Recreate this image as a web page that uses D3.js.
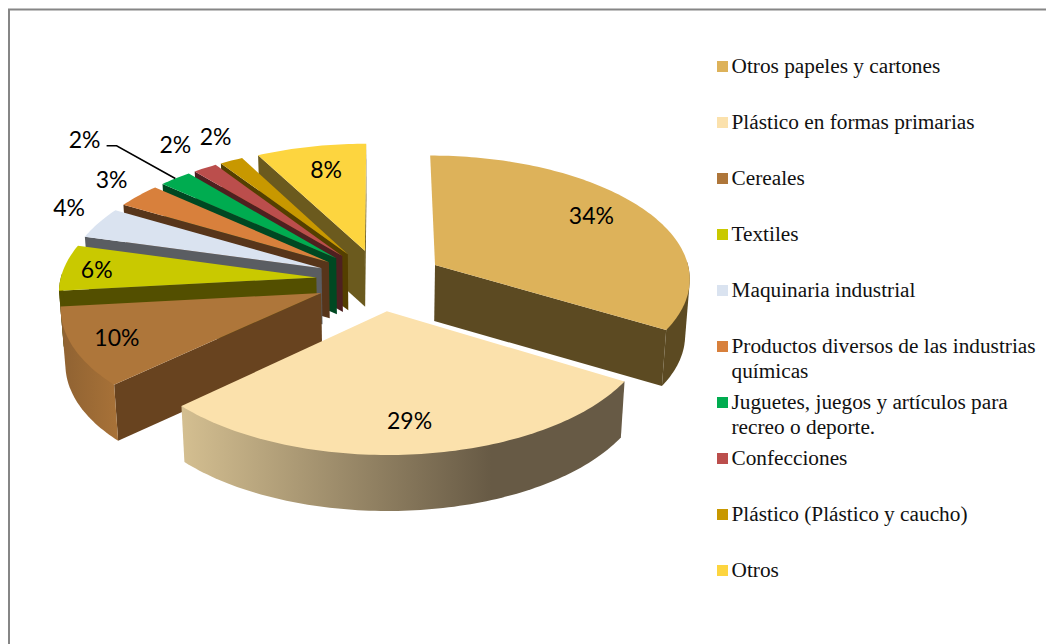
<!DOCTYPE html>
<html>
<head>
<meta charset="utf-8">
<script src="https://cdn.jsdelivr.net/npm/d3@7"></script>
<style>
  html, body { margin: 0; padding: 0; background: #fff; }
  svg { display: block; }
</style>
</head>
<body>
<figure id="chart" style="margin:0"></figure>
<script>
// data (labels show them rounded)
var categories = ["Otros papeles y cartones", "Plástico en formas primarias", "Cereales", "Textiles",
  "Maquinaria industrial", "Productos diversos de las industrias químicas",
  "Juguetes, juegos y artículos para recreo o deporte.", "Confecciones",
  "Plástico (Plástico y caucho)", "Otros"];
var values = [33.6, 29.45, 10.25, 6, 4.1, 3.2, 2.3, 1.7, 1.64, 7.76];

// legend text broken the way the original wraps it
var legendLines = [["Otros papeles y cartones"], ["Plástico en formas primarias"], ["Cereales"], ["Textiles"],
  ["Maquinaria industrial"], ["Productos diversos de las industrias", "químicas"],
  ["Juguetes, juegos y artículos para", "recreo o deporte."], ["Confecciones"],
  ["Plástico (Plástico y caucho)"], ["Otros"]];

// colours
var topColors = ["#ddb25a", "#fbe1ac", "#ae763a", "#c9c900", "#dae3f0", "#d8803c", "#00ac50", "#bb4e4c", "#c89800", "#fdd53f"];
var wallColors = ["#5c4a22", "#675a45", "#68431f", "#534f00", "#5a5d62", "#57351a", "#004822", "#4e2020", "#543f00", "#6b5a1e"];

// label placement: radius on the slice plus a small nudge in pixels
var labelRadius = [0.72, 0.62, 0.72, 0.95, 1.1, 1.1, 1.2, 1.1, 1.1, 0.72];
var labelNudge = [[5, -8], [4, 25], [-28, 6], [20, 2], [-8, -11], [-9, -9], [-61, -24], [-17, -15], [-5, -15], [1, -4]];

var width = 1046, height = 644;

// pie geometry (radius 1 = edge of the pie)
var cx = 380, cy = 280, rx = 256, ry = 123,
  perspective = 0.098, explode = 0.25, depth = 56, shrink = 0.985;

var svg = d3.select("figure#chart")
  .append("svg")
  .attr("width", width)
  .attr("height", height);

// frame, no line on the right or bottom
svg.append("path")
  .attr("d", "M9," + height + "V9.5H" + width)
  .attr("fill", "none")
  .attr("stroke", "#868686")
  .attr("stroke-width", 2);

var slices = d3.pie().sort(null).startAngle(0).endAngle(2 * Math.PI)(values);

function mid(d) { return (d.startAngle + d.endAngle) / 2; }

// project a point of the slice on the tilted plane
function project(d, angle, r) {
  var m = mid(d),
    wx = r * Math.sin(angle) + explode * Math.sin(m),
    wz = r * Math.cos(angle) + explode * Math.cos(m),
    s = 1 / (1 + perspective * wz);
  return [cx + wx * s * rx, cy - wz * s * ry];
}
function lower(p) {
  return [cx + (p[0] - cx) * shrink, p[1] + depth];
}
function arcPoints(d, a0, a1) {
  var n = Math.max(2, Math.ceil((a1 - a0) / 0.02));
  return d3.range(n + 1).map(function(i) {
    return project(d, a0 + (a1 - a0) * i / n, 1);
  });
}

var line = d3.line();
var defs = svg.append("defs");

// the two big front walls have a shaded rim
function rimGradient(id, c0, c1, stop) {
  var g = defs.append("linearGradient").attr("id", id)
    .attr("x1", 0).attr("x2", 1).attr("y1", 0).attr("y2", 0);
  g.append("stop").attr("offset", 0).attr("stop-color", c0);
  g.append("stop").attr("offset", stop).attr("stop-color", c1);
}
rimGradient("rim1", "#d4bf91", wallColors[1], 0.7);
rimGradient("rim2", "#8f6232", "#a87238", 1);

var rimFill = {1: "url(#rim1)", 2: "url(#rim2)"};

// back to front: small slices first, the two big ones last
var order = [9, 8, 7, 6, 5, 4, 3, 2, 0, 1];
var g = svg.append("g");

order.forEach(function(i) {
  var d = slices[i],
    apex = project(d, 0, 0),
    p0 = project(d, d.startAngle, 1),
    p1 = project(d, d.endAngle, 1),
    m = project(d, mid(d), 1);

  // a cut face shows when the slice lies above its edge
  [p0, p1].forEach(function(p) {
    var t = (m[0] - apex[0]) / (p[0] - apex[0]),
      yOnEdge = apex[1] + (p[1] - apex[1]) * t;
    if (m[1] < yOnEdge || Math.abs(p[0] - apex[0]) < 1) {
      if (Math.abs(p[0] - apex[0]) < 10 && i === 0) return;
      g.append("path")
        .attr("d", line([apex, p, lower(p), lower(apex)]) + "Z")
        .attr("fill", wallColors[i]);
    }
  });

  // outer rim, only the part turned to the viewer
  var a0 = Math.max(d.startAngle, Math.PI * 0.49),
    a1 = Math.min(d.endAngle, Math.PI * 1.51);
  if (a1 > a0) {
    var rim = arcPoints(d, a0, a1);
    g.append("path")
      .attr("d", line(d3.polygonHull(rim.concat(rim.map(lower)))) + "Z")
      .attr("fill", rimFill[i] || wallColors[i]);
  }

  // top face
  g.append("path")
    .attr("d", line([apex].concat(arcPoints(d, d.startAngle, d.endAngle))) + "Z")
    .attr("fill", topColors[i]);
});

// data labels
var labelPos = slices.map(function(d, i) {
  var p = project(d, mid(d), labelRadius[i]);
  return [p[0] + labelNudge[i][0], p[1] + labelNudge[i][1]];
});

svg.append("g")
  .selectAll("text")
  .data(slices)
  .enter()
  .append("text")
  .attr("x", function(d, i) { return labelPos[i][0]; })
  .attr("y", function(d, i) { return labelPos[i][1]; })
  .attr("dy", "0.35em")
  .attr("text-anchor", "middle")
  .attr("font-family", "Lato, sans-serif")
  .attr("font-size", 23)
  .attr("fill", "#000")
  .text(function(d) { return Math.round(d.value) + "%"; });

// leader line of the green slice
var leaderEnd = project(slices[6], mid(slices[6]), 1);
var leaderStart = [labelPos[6][0] + 22, labelPos[6][1] + 6];
svg.append("path")
  .attr("d", line([leaderStart, [leaderStart[0] + 10, leaderStart[1]], leaderEnd]))
  .attr("fill", "none")
  .attr("stroke", "#000")
  .attr("stroke-width", 1.5);

// legend
var legendY = d3.scalePoint().domain(categories).range([66.5, 570.5]);
var legend = svg.append("g")
  .selectAll("g")
  .data(categories)
  .enter()
  .append("g")
  .attr("transform", function(d) { return "translate(717," + legendY(d) + ")"; });

legend.append("rect")
  .attr("x", 0)
  .attr("y", -5.5)
  .attr("width", 11)
  .attr("height", 11)
  .attr("fill", function(d, i) { return topColors[i]; });

legend.each(function(d, i) {
  d3.select(this).selectAll("text")
    .data(legendLines[i])
    .enter()
    .append("text")
    .attr("x", 14.5)
    .attr("y", function(t, k) { return 6 + k * 25.5; })
    .attr("font-family", "'Liberation Serif', serif")
    .attr("font-size", 21.3)
    .attr("fill", "#111")
    .text(function(t) { return t; });
});
</script>
</body>
</html>
